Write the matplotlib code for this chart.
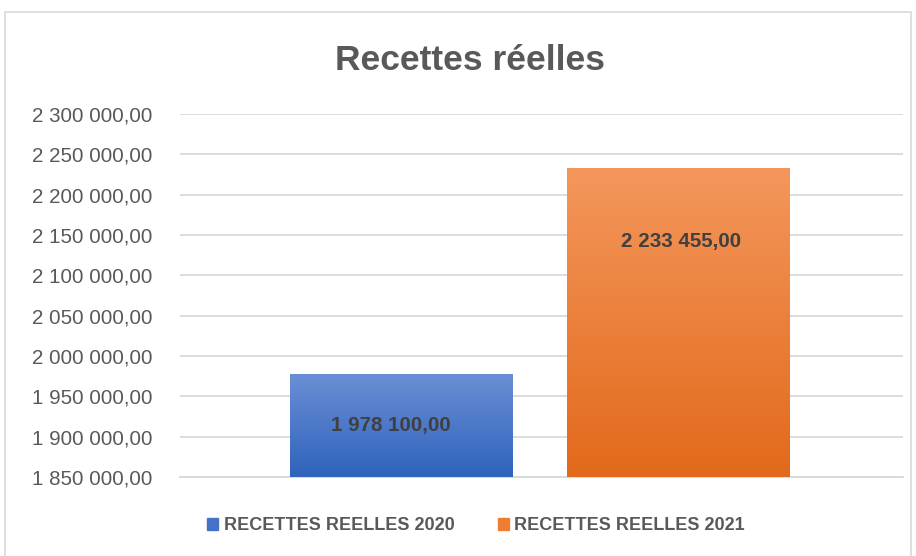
import matplotlib
matplotlib.use("Agg")
import matplotlib.pyplot as plt
import numpy as np
from matplotlib.colors import LinearSegmentedColormap
from matplotlib.patches import Rectangle

plt.rcParams['font.family'] = ['Liberation Sans', 'DejaVu Sans']

# data
series = ['RECETTES REELLES 2020', 'RECETTES REELLES 2021']
values = [1978100.00, 2233455.00]
yticks = [1850000, 1900000, 1950000, 2000000, 2050000, 2100000, 2150000, 2200000, 2250000, 2300000]

# style
top_colors = ['#6b8fd5', '#f4975c']
bot_colors = ['#2f63bc', '#e2691b']
legend_colors = ['#4472c4', '#ed7d31']
label_frac = [0.5, 0.24]      # label position, fraction of bar height from the top
label_dx = [-0.015, 0.004]    # small horizontal nudge of the value labels
text_gray = '#595959'


def fr_fmt(v):
    s = f"{v:,.2f}"
    return s.replace(',', ' ').replace('.', ',')


fig = plt.figure(figsize=(9.16, 5.56), dpi=100)
fig.patches.append(Rectangle((5/916, -0.1), 906/916, 1.1 - 12/556, transform=fig.transFigure,
                             fill=False, edgecolor='#d9d9d9', linewidth=1.2))

ax = fig.add_axes([180/916, 1 - 477/556, 723/916, 363/556])
ax.set_xlim(-0.5, 0.5)
ax.set_ylim(yticks[0], yticks[-1])

offsets = [-0.1936, 0.1894]
width = 0.308
for i, v in enumerate(values):
    bar = ax.bar(offsets[i], v - yticks[0], width=width, bottom=yticks[0],
                 color='none', edgecolor='none', zorder=3)[0]
    cmap = LinearSegmentedColormap.from_list('g', [bot_colors[i], top_colors[i]])
    grad = np.linspace(0, 1, 256).reshape(-1, 1)
    x0 = bar.get_x()
    im = ax.imshow(grad, cmap=cmap, aspect='auto', origin='lower',
                   extent=[x0, x0 + width, yticks[0], v], zorder=3)
    im.set_clip_path(bar)
    ly = v - label_frac[i] * (v - yticks[0])
    ax.text(offsets[i] + label_dx[i], ly, fr_fmt(v), ha='center', va='center', fontsize=14.8,
            fontweight='bold', color='#404040', zorder=4)

ax.set_yticks(yticks)
ax.set_yticklabels([fr_fmt(t) for t in yticks], fontsize=14.8, color=text_gray)
ax.set_xticks([])
ax.tick_params(axis='y', length=0, pad=20)
ax.grid(axis='y', color='#d9d9d9', linewidth=1.3, zorder=0)
for s in ['top', 'right', 'left']:
    ax.spines[s].set_visible(False)
ax.spines['bottom'].set_color('#d9d9d9')
ax.spines['bottom'].set_linewidth(1.3)
ax.set_aspect('auto')

fig.text(470/916, 1 - 60/556, 'Recettes réelles', ha='center', va='center',
         fontsize=25.5, fontweight='bold', color=text_gray)

handles = [Rectangle((0, 0), 1, 1, color=c) for c in legend_colors]
fig.legend(handles, series, loc='center', bbox_to_anchor=(476/916, 1 - 526/556), ncol=2,
           frameon=False, handlelength=0.6, handleheight=0.6,
           handletextpad=0.3, columnspacing=2.4,
           prop={'weight': 'bold', 'size': 13.0})
for t in fig.legends[0].get_texts():
    t.set_color(text_gray)

fig.savefig('out.png', dpi=100)
